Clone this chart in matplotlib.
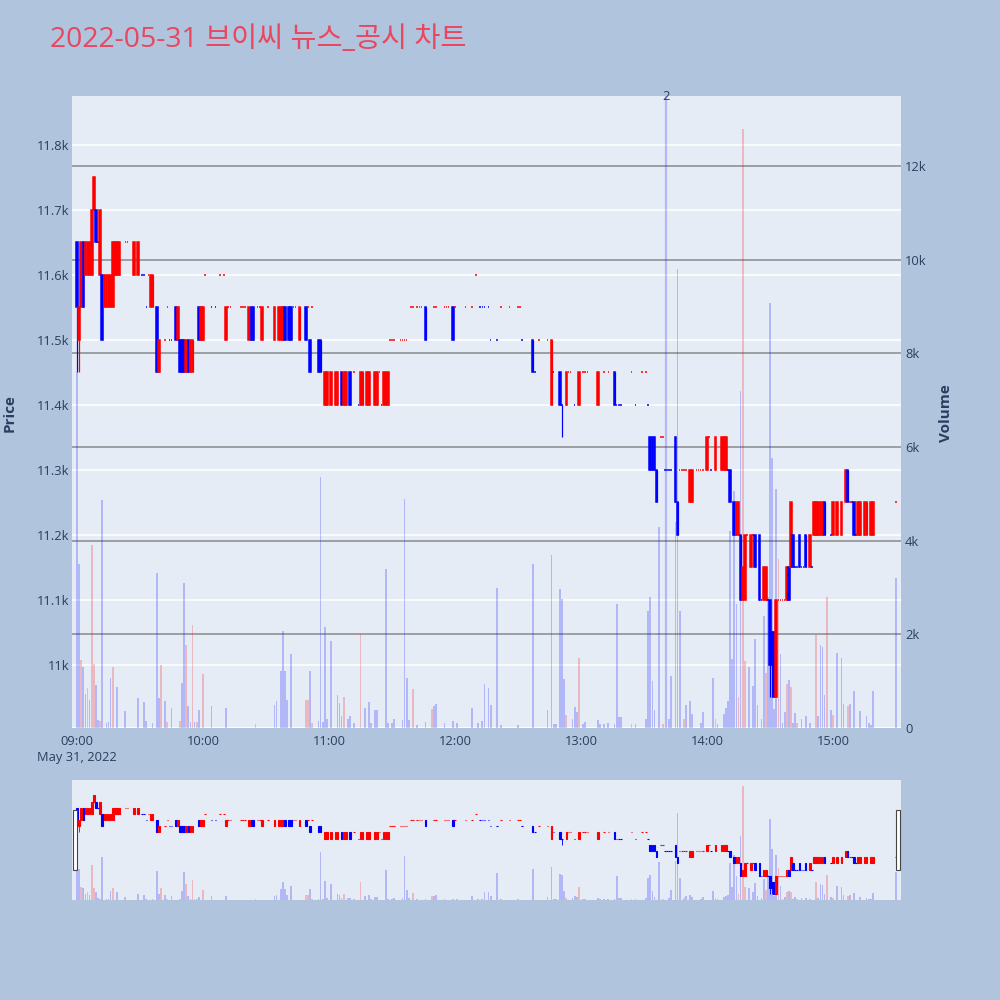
import matplotlib
matplotlib.use('Agg')
import matplotlib.pyplot as plt
import matplotlib.transforms as mtransforms
from matplotlib.patches import Rectangle

plt.rcParams['font.family'] = ['Open Sans', 'Noto Sans CJK KR', 'DejaVu Sans']

title = '2022-05-31 브이씨 뉴스_공시 차트'
date_label = 'May 31, 2022'
time_ticks = [0, 60, 120, 180, 240, 300, 360]
time_labels = ['09:00', '10:00', '11:00', '12:00', '13:00', '14:00', '15:00']
price_ticks = [11000, 11100, 11200, 11300, 11400, 11500, 11600, 11700, 11800]
price_labels = ['11k', '11.1k', '11.2k', '11.3k', '11.4k', '11.5k', '11.6k', '11.7k', '11.8k']
vol_ticks = [0, 2000, 4000, 6000, 8000, 10000, 12000]
vol_labels = ['0', '2k', '4k', '6k', '8k', '10k', '12k']

# candles: minutes after 09:00
c_min = [0, 1, 2, 3, 4, 5, 6, 7, 8, 9,
         10, 11, 12, 13, 14, 15, 16, 17, 18, 19,
         20, 23, 24, 27, 29, 31, 32, 33, 34, 35,
         36, 38, 39, 42, 43, 44, 45, 47, 48, 49,
         50, 51, 52, 53, 54, 55, 58, 59, 60, 61,
         64, 66, 68, 70, 71, 72, 73, 78, 79, 80,
         82, 83, 84, 86, 87, 88, 91, 94, 96, 97,
         98, 99, 101, 102, 103, 104, 106, 109, 110, 111,
         112, 115, 116, 118, 119, 121, 123, 124, 126, 127,
         128, 130, 132, 134, 135, 136, 138, 139, 142, 143,
         144, 145, 146, 147, 148, 149, 150, 151, 154, 155,
         156, 157, 159, 160, 162, 163, 164, 166, 170, 171,
         175, 176, 177, 179, 180, 185, 188, 190, 192, 193,
         194, 196, 197, 200, 202, 206, 210, 211, 212, 217,
         218, 220, 224, 226, 227, 230, 231, 233, 234, 235,
         237, 239, 241, 242, 243, 248, 251, 253, 256, 257,
         258, 259, 264, 266, 269, 271, 272, 273, 274, 275,
         276, 278, 279, 280, 281, 282, 283, 285, 286, 287,
         288, 289, 290, 292, 293, 295, 296, 297, 298, 300,
         301, 302, 304, 307, 308, 309, 310, 311, 313, 314,
         315, 316, 317, 318, 319, 321, 322, 323, 325, 326,
         327, 328, 329, 330, 331, 332, 333, 334, 335, 336,
         337, 338, 339, 340, 341, 342, 343, 344, 345, 346,
         347, 349, 350, 351, 352, 353, 354, 355, 356, 359,
         360, 362, 364, 366, 367, 368, 369, 370, 371, 372,
         373, 375, 376, 378, 379, 390]
c_open = [11650, 11500, 11550, 11650, 11600, 11600, 11600, 11600, 11700, 11700,
          11650, 11600, 11600, 11550, 11550, 11550, 11550, 11550, 11600, 11600,
          11600, 11650, 11650, 11600, 11600, 11600, 11600, 11550, 11600, 11550,
          11550, 11550, 11450, 11500, 11550, 11500, 11500, 11550, 11500, 11500,
          11500, 11500, 11450, 11500, 11450, 11450, 11550, 11500, 11500, 11600,
          11550, 11550, 11600, 11600, 11500, 11550, 11550, 11550, 11550, 11550,
          11500, 11550, 11550, 11550, 11550, 11500, 11550, 11500, 11500, 11500,
          11500, 11550, 11550, 11550, 11550, 11550, 11500, 11550, 11550, 11500,
          11550, 11500, 11500, 11400, 11400, 11400, 11400, 11400, 11450, 11400,
          11400, 11450, 11450, 11400, 11400, 11400, 11400, 11400, 11400, 11400,
          11450, 11400, 11400, 11400, 11400, 11500, 11500, 11500, 11500, 11500,
          11500, 11500, 11550, 11550, 11550, 11550, 11550, 11550, 11550, 11550,
          11550, 11550, 11550, 11550, 11550, 11550, 11550, 11600, 11550, 11550,
          11550, 11550, 11500, 11500, 11550, 11550, 11550, 11550, 11500, 11500,
          11450, 11500, 11500, 11400, 11450, 11450, 11400, 11400, 11450, 11450,
          11400, 11400, 11450, 11450, 11450, 11400, 11450, 11450, 11450, 11400,
          11400, 11400, 11450, 11400, 11450, 11450, 11400, 11350, 11350, 11350,
          11300, 11350, 11350, 11300, 11300, 11300, 11300, 11350, 11250, 11300,
          11300, 11300, 11300, 11250, 11250, 11300, 11300, 11300, 11300, 11300,
          11350, 11300, 11300, 11300, 11300, 11300, 11300, 11300, 11250, 11200,
          11200, 11200, 11100, 11100, 11200, 11150, 11200, 11200, 11200, 11100,
          11100, 11100, 11100, 11100, 11050, 11050, 10950, 11100, 11100, 11100,
          11100, 11100, 11150, 11150, 11200, 11150, 11150, 11200, 11150, 11150,
          11200, 11150, 11150, 11200, 11200, 11200, 11200, 11200, 11250, 11200,
          11200, 11200, 11200, 11250, 11300, 11250, 11250, 11250, 11200, 11200,
          11200, 11200, 11200, 11200, 11200, 11250]
c_high = [11650, 11550, 11650, 11650, 11650, 11650, 11650, 11700, 11750, 11700,
          11650, 11700, 11600, 11600, 11600, 11600, 11600, 11650, 11650, 11650,
          11650, 11650, 11650, 11650, 11650, 11600, 11600, 11550, 11600, 11600,
          11600, 11550, 11500, 11500, 11550, 11500, 11500, 11550, 11550, 11500,
          11500, 11500, 11500, 11500, 11500, 11500, 11550, 11550, 11550, 11600,
          11550, 11550, 11600, 11600, 11550, 11550, 11550, 11550, 11550, 11550,
          11550, 11550, 11550, 11550, 11550, 11550, 11550, 11550, 11550, 11550,
          11550, 11550, 11550, 11550, 11550, 11550, 11550, 11550, 11550, 11500,
          11550, 11500, 11500, 11450, 11450, 11450, 11450, 11450, 11450, 11450,
          11450, 11450, 11450, 11400, 11450, 11450, 11450, 11450, 11450, 11450,
          11450, 11400, 11450, 11450, 11450, 11500, 11500, 11500, 11500, 11500,
          11500, 11500, 11550, 11550, 11550, 11550, 11550, 11550, 11550, 11550,
          11550, 11550, 11550, 11550, 11550, 11550, 11550, 11600, 11550, 11550,
          11550, 11550, 11500, 11500, 11550, 11550, 11550, 11550, 11500, 11500,
          11450, 11500, 11500, 11500, 11450, 11450, 11400, 11450, 11450, 11450,
          11400, 11450, 11450, 11450, 11450, 11450, 11450, 11450, 11450, 11400,
          11400, 11400, 11450, 11400, 11450, 11450, 11400, 11350, 11350, 11350,
          11300, 11350, 11350, 11300, 11300, 11300, 11300, 11350, 11250, 11300,
          11300, 11300, 11300, 11300, 11300, 11300, 11300, 11300, 11300, 11350,
          11350, 11300, 11350, 11350, 11350, 11350, 11300, 11300, 11250, 11250,
          11250, 11200, 11150, 11200, 11200, 11200, 11200, 11200, 11200, 11100,
          11150, 11150, 11100, 11100, 11050, 11050, 11100, 11100, 11100, 11100,
          11100, 11150, 11150, 11250, 11200, 11150, 11150, 11200, 11150, 11150,
          11200, 11200, 11150, 11250, 11250, 11250, 11250, 11250, 11250, 11200,
          11250, 11250, 11250, 11300, 11300, 11250, 11250, 11250, 11200, 11250,
          11250, 11250, 11250, 11250, 11250, 11250]
c_low = [11450, 11450, 11550, 11550, 11600, 11600, 11600, 11600, 11700, 11650,
         11650, 11600, 11500, 11550, 11550, 11550, 11550, 11550, 11600, 11600,
         11600, 11650, 11650, 11600, 11600, 11600, 11600, 11550, 11600, 11550,
         11550, 11450, 11450, 11500, 11550, 11500, 11500, 11500, 11500, 11450,
         11450, 11450, 11450, 11450, 11450, 11450, 11500, 11500, 11500, 11600,
         11550, 11550, 11600, 11600, 11500, 11550, 11550, 11550, 11550, 11550,
         11500, 11500, 11500, 11550, 11550, 11500, 11550, 11500, 11500, 11500,
         11500, 11500, 11500, 11500, 11550, 11550, 11500, 11500, 11550, 11450,
         11550, 11450, 11450, 11400, 11400, 11400, 11400, 11400, 11400, 11400,
         11400, 11400, 11450, 11400, 11400, 11400, 11400, 11400, 11400, 11400,
         11450, 11400, 11400, 11400, 11400, 11500, 11500, 11500, 11500, 11500,
         11500, 11500, 11550, 11550, 11550, 11550, 11550, 11500, 11550, 11550,
         11550, 11550, 11550, 11500, 11550, 11550, 11550, 11600, 11550, 11550,
         11550, 11550, 11500, 11500, 11550, 11550, 11550, 11550, 11500, 11450,
         11450, 11500, 11500, 11400, 11450, 11400, 11350, 11400, 11450, 11450,
         11400, 11400, 11450, 11450, 11450, 11400, 11450, 11450, 11400, 11400,
         11400, 11400, 11450, 11400, 11450, 11450, 11400, 11300, 11300, 11300,
         11250, 11350, 11350, 11300, 11300, 11300, 11300, 11250, 11200, 11300,
         11300, 11300, 11300, 11250, 11250, 11300, 11300, 11300, 11300, 11300,
         11350, 11300, 11300, 11300, 11300, 11300, 11300, 11250, 11200, 11200,
         11200, 11100, 11100, 11100, 11200, 11150, 11200, 11150, 11100, 11100,
         11100, 11100, 11100, 10950, 10950, 10950, 10950, 11100, 11100, 11100,
         11100, 11100, 11100, 11150, 11150, 11150, 11150, 11150, 11150, 11150,
         11150, 11150, 11150, 11200, 11200, 11200, 11200, 11200, 11200, 11200,
         11200, 11200, 11200, 11250, 11250, 11250, 11250, 11200, 11200, 11200,
         11200, 11200, 11200, 11200, 11200, 11250]
c_close = [11550, 11550, 11650, 11550, 11650, 11650, 11650, 11700, 11750, 11650,
           11650, 11700, 11500, 11600, 11600, 11600, 11600, 11650, 11650, 11650,
           11650, 11650, 11650, 11650, 11650, 11600, 11600, 11550, 11600, 11600,
           11600, 11450, 11500, 11500, 11550, 11500, 11500, 11500, 11550, 11450,
           11450, 11450, 11500, 11450, 11500, 11500, 11500, 11550, 11550, 11600,
           11550, 11550, 11600, 11600, 11550, 11550, 11550, 11550, 11550, 11550,
           11550, 11500, 11500, 11550, 11550, 11550, 11550, 11550, 11550, 11550,
           11550, 11500, 11500, 11500, 11550, 11550, 11550, 11500, 11550, 11450,
           11550, 11450, 11450, 11450, 11450, 11450, 11450, 11450, 11400, 11450,
           11450, 11400, 11450, 11400, 11450, 11450, 11450, 11450, 11450, 11450,
           11450, 11400, 11450, 11450, 11450, 11500, 11500, 11500, 11500, 11500,
           11500, 11500, 11550, 11550, 11550, 11550, 11550, 11500, 11550, 11550,
           11550, 11550, 11550, 11500, 11550, 11550, 11550, 11600, 11550, 11550,
           11550, 11550, 11500, 11500, 11550, 11550, 11550, 11550, 11500, 11450,
           11450, 11500, 11500, 11500, 11450, 11400, 11400, 11450, 11450, 11450,
           11400, 11450, 11450, 11450, 11450, 11450, 11450, 11450, 11400, 11400,
           11400, 11400, 11450, 11400, 11450, 11450, 11400, 11300, 11300, 11300,
           11250, 11350, 11350, 11300, 11300, 11300, 11300, 11250, 11200, 11300,
           11300, 11300, 11300, 11300, 11300, 11300, 11300, 11300, 11300, 11350,
           11350, 11300, 11350, 11350, 11350, 11350, 11300, 11250, 11200, 11250,
           11250, 11100, 11150, 11200, 11200, 11200, 11200, 11150, 11100, 11100,
           11150, 11150, 11100, 11000, 11000, 10950, 11100, 11100, 11100, 11100,
           11100, 11150, 11100, 11250, 11150, 11150, 11150, 11150, 11150, 11150,
           11150, 11200, 11150, 11250, 11250, 11250, 11250, 11250, 11200, 11200,
           11250, 11250, 11250, 11300, 11250, 11250, 11250, 11200, 11200, 11250,
           11250, 11250, 11250, 11250, 11250, 11250]
# unchanged (open == close) candles drawn in the falling colour
flat_down = [10, 31, 32, 33, 44, 45, 64, 66, 134, 145, 192, 193, 194, 196, 197,
             200, 212, 218, 227, 231, 237, 257, 258, 259, 266, 272, 280, 281, 282,
             283, 302, 310, 326, 329, 342, 343, 345, 346, 350, 359, 369, 371]

# volume
v_min = [0, 1, 2, 3, 4, 5, 6, 7, 8, 9,
         10, 11, 12, 14, 15, 16, 17, 19, 23, 29,
         32, 33, 36, 38, 39, 40, 42, 43, 45, 49,
         50, 51, 52, 53, 54, 55, 56, 57, 58, 60,
         64, 71, 85, 94, 95, 97, 98, 99, 100, 102,
         109, 110, 111, 112, 115, 116, 117, 118, 119, 121,
         124, 125, 126, 127, 129, 130, 132, 135, 137, 139,
         140, 142, 143, 147, 148, 150, 151, 155, 156, 157,
         158, 160, 162, 166, 169, 170, 171, 175, 179, 181,
         188, 191, 193, 194, 196, 197, 200, 202, 210, 217,
         224, 226, 227, 228, 230, 231, 232, 233, 236, 237,
         238, 239, 241, 242, 248, 249, 251, 253, 256, 257,
         258, 259, 264, 266, 271, 272, 273, 274, 275, 277,
         279, 282, 283, 285, 286, 287, 289, 290, 292, 293,
         297, 298, 303, 304, 305, 308, 309, 310, 311, 312,
         313, 314, 315, 316, 317, 318, 320, 322, 323, 324,
         326, 327, 328, 329, 330, 331, 332, 333, 334, 335,
         336, 337, 338, 339, 340, 341, 342, 343, 345, 347,
         349, 352, 353, 354, 355, 356, 357, 359, 360, 362,
         364, 365, 367, 368, 370, 373, 376, 377, 378, 379,
         390]
v_val = [7600, 3500, 1460, 1300, 720, 850, 600, 3900, 1370, 920,
         180, 150, 4860, 100, 120, 1060, 1300, 880, 370, 630,
         560, 150, 100, 3300, 630, 1350, 580, 120, 420, 150,
         970, 3100, 1770, 470, 120, 2200, 120, 120, 380, 1150,
         470, 420, 80, 490, 580, 1220, 2080, 1220, 600, 1580,
         600, 600, 1220, 100, 150, 5370, 120, 2150, 200, 1850,
         710, 540, 250, 660, 200, 260, 100, 2000, 420, 560,
         100, 380, 380, 3400, 100, 100, 200, 180, 4900, 1070,
         180, 830, 60, 120, 400, 470, 520, 100, 140, 100,
         420, 100, 160, 930, 850, 500, 2990, 60, 60, 3500,
         380, 3700, 80, 80, 2970, 2760, 1040, 270, 200, 450,
         350, 1500, 80, 130, 180, 80, 80, 100, 80, 2650,
         230, 230, 80, 80, 200, 2500, 2800, 1000, 380, 4300,
         80, 200, 1100, 4400, 9800, 2500, 200, 500, 570, 300,
         100, 340, 1060, 200, 80, 300, 430, 580, 4200, 1470,
         5050, 2650, 660, 7200, 12800, 1420, 1300, 900, 1900, 500,
         200, 2400, 1170, 2800, 9070, 5770, 400, 5100, 3600, 1580,
         100, 350, 940, 1030, 870, 100, 310, 100, 200, 250,
         100, 1990, 250, 1770, 1740, 700, 2800, 380, 280, 1600,
         1490, 510, 470, 510, 800, 370, 250, 100, 60, 780,
         3200]
v_red = [2, 5, 7, 8, 11, 17, 40, 43, 49, 52, 55, 57, 60, 85, 109, 110, 112, 127,
         135, 160, 169, 233, 239, 264, 279, 289, 304, 315, 317, 318, 328, 334, 338,
         340, 343, 352, 357, 360, 367]

news_min = [280.5]
news_label = ['2']

UP, DOWN = '#ff0000', '#0000ff'
VUP, VDOWN = (1, 0, 0, 0.22), (0, 0, 1, 0.22)
TXT = '#2a3f5f'
PLOT_BG = '#E5ECF6'
XLIM = (-2.4, 392.4)
PLIM = (10903, 11875)
VLIM = (0, 13495)
TICK_FS = 9.3


def candle_colors():
    cols = []
    for m, o, c in zip(c_min, c_open, c_close):
        if c > o:
            cols.append(UP)
        elif c < o:
            cols.append(DOWN)
        else:
            cols.append(DOWN if m in flat_down else UP)
    return cols


def draw(ax_v, ax_p, lw):
    vcols = [VUP if m in v_red else VDOWN for m in v_min]
    ax_v.bar(v_min, v_val, width=0.8, color=vcols, linewidth=0, zorder=2)
    cols = candle_colors()
    bottoms = [min(o, c) for o, c in zip(c_open, c_close)]
    heights = [abs(c - o) for o, c in zip(c_open, c_close)]
    ax_p.vlines(c_min, c_low, c_high, colors=cols, linewidth=lw * 0.8, zorder=3)
    ax_p.bar(c_min, heights, bottom=bottoms, width=0.75, color=cols,
             edgecolor=cols, linewidth=lw, zorder=4)


fig = plt.figure(figsize=(10, 10), dpi=100)
fig.patch.set_facecolor('#B0C4DE')

# main chart
ax_v = fig.add_axes([0.072, 0.272, 0.829, 0.632])
ax_p = ax_v.twinx()
ax_v.set_facecolor(PLOT_BG)
ax_p.patch.set_visible(False)
for a in (ax_v, ax_p):
    for s in a.spines.values():
        s.set_visible(False)
ax_v.set_xlim(*XLIM)
ax_v.set_ylim(*VLIM)
ax_p.set_ylim(*PLIM)

blend = mtransforms.blended_transform_factory(ax_v.transAxes, ax_p.transData)
for p in price_ticks:
    ax_v.plot([0, 1], [p, p], transform=blend, color='white', lw=1.1, zorder=0.6)
for v in vol_ticks[1:]:
    ax_v.axhline(v, color='#8a8a8a', lw=1.1, zorder=0.7)
ax_v.axhline(0, color='white', lw=2, zorder=0.8)

for m in news_min:
    ax_v.axvline(m, color=(0, 0, 1, 0.22), lw=1.6, zorder=2.5)
tb = mtransforms.blended_transform_factory(ax_v.transData, ax_v.transAxes)
for m, t in zip(news_min, news_label):
    ax_v.text(m, 1.0, t, transform=tb, ha='center', va='center',
              fontsize=TICK_FS, color=TXT)

draw(ax_v, ax_p, 1.1)

ax_v.yaxis.tick_right()
ax_p.yaxis.tick_left()
ax_v.set_yticks(vol_ticks, vol_labels)
ax_p.set_yticks(price_ticks, price_labels)
ax_v.set_xticks(time_ticks, time_labels)
ax_v.tick_params(axis='y', length=0, pad=3, labelsize=TICK_FS, labelcolor=TXT)
ax_p.tick_params(axis='y', length=0, pad=2, labelsize=TICK_FS, labelcolor=TXT)
ax_v.tick_params(axis='x', length=0, pad=5, labelsize=TICK_FS, labelcolor=TXT)

fig.text(0.077, 1 - 0.757, date_label, ha='center', va='center',
         fontsize=TICK_FS, color=TXT)
fig.text(0.010, 1 - 0.413, 'Price', rotation=90, ha='center', va='center',
         fontsize=11, fontweight='bold', color=TXT)
fig.text(0.946, 1 - 0.413, 'Volume', rotation=90, ha='center', va='center',
         fontsize=11, fontweight='bold', color=TXT)
fig.text(0.050, 0.960, title, ha='left', va='center', fontsize=20.4,
         color='#E8475F')

# range slider
sv = fig.add_axes([0.072, 0.100, 0.829, 0.120])
sp = sv.twinx()
sv.set_facecolor(PLOT_BG)
sp.patch.set_visible(False)
for a in (sv, sp):
    for s in a.spines.values():
        s.set_visible(False)
    a.set_xticks([])
    a.set_yticks([])
sv.set_xlim(*XLIM)
sv.set_ylim(*VLIM)
sp.set_ylim(*PLIM)
draw(sv, sp, 0.8)

for x0 in (0.0725, 0.8955):
    fig.patches.append(Rectangle((x0, 1 - 0.870), 0.004, 0.060,
                                 transform=fig.transFigure, facecolor='white',
                                 edgecolor='#444444', linewidth=0.8, zorder=10))

fig.savefig('out.png', dpi=100, facecolor=fig.get_facecolor())
